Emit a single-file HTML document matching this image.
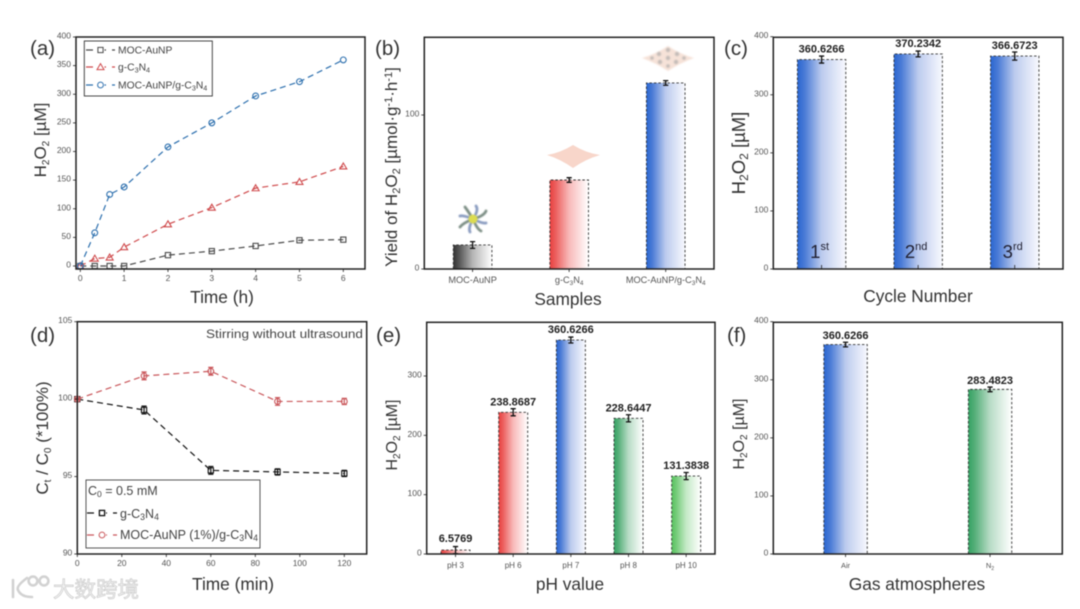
<!DOCTYPE html>
<html lang="en">
<head>
<meta charset="utf-8">
<title>H2O2 production figure</title>
<style>
html,body{margin:0;padding:0;background:#fff;width:1080px;height:609px;overflow:hidden}
svg{display:block;filter:blur(0.45px);font-family:"Liberation Sans","Noto Sans CJK SC",sans-serif}
.title{font-size:17.3px;fill:#333;text-anchor:middle}
.ytitle{font-size:17px;fill:#333;text-anchor:middle}
.plabel{font-size:20.5px;fill:#333}
.tick{font-size:8.5px;fill:#555}
.leg{font-size:10.5px;fill:#444}
.val{font-size:11px;font-weight:bold;fill:#222;text-anchor:middle}
</style>
</head>
<body>
<svg id="fig" xmlns="http://www.w3.org/2000/svg" width="1080" height="609" viewBox="0 0 1080 609">
<defs>
<linearGradient id="g-black"><stop offset="0" stop-color="#333"/><stop offset=".15" stop-color="#555"/><stop offset=".5" stop-color="#b5b5b5"/><stop offset="1" stop-color="#fff"/></linearGradient>
<linearGradient id="g-red"><stop offset="0" stop-color="#e8403f"/><stop offset=".15" stop-color="#ec5f5e"/><stop offset=".5" stop-color="#f8b9b9"/><stop offset="1" stop-color="#fff"/></linearGradient>
<linearGradient id="g-blue"><stop offset="0" stop-color="#2a66d0"/><stop offset=".15" stop-color="#4a7bd6"/><stop offset=".5" stop-color="#bccbee"/><stop offset="1" stop-color="#f8f9fe"/></linearGradient>
<linearGradient id="g-dgreen"><stop offset="0" stop-color="#35a163"/><stop offset=".15" stop-color="#55af79"/><stop offset=".5" stop-color="#b8dcc6"/><stop offset="1" stop-color="#fff"/></linearGradient>
<linearGradient id="g-lgreen"><stop offset="0" stop-color="#58c25f"/><stop offset=".15" stop-color="#72cb77"/><stop offset=".5" stop-color="#c4e9c6"/><stop offset="1" stop-color="#fff"/></linearGradient>
</defs>
<rect width="1080" height="609" fill="#fff"/>

<g id="panel-a"></g>
<g id="panel-b"></g>
<g id="panel-c"></g>
<g id="panel-d"></g>
<g id="panel-e"></g>
<g id="panel-f"></g>

<!-- panel letters -->
<text class="plabel" x="30" y="55">(a)</text>
<text class="plabel" x="375" y="55">(b)</text>
<text class="plabel" x="724" y="55">(c)</text>
<text class="plabel" x="30" y="342">(d)</text>
<text class="plabel" x="376" y="342">(e)</text>
<text class="plabel" x="727" y="342">(f)</text>

<!-- x titles -->
<text class="title" x="222" y="303">Time (h)</text>
<text class="title" x="568" y="305">Samples</text>
<text class="title" x="918" y="302">Cycle Number</text>
<text class="title" x="233" y="590">Time (min)</text>
<text class="title" x="570" y="590">pH value</text>
<text class="title" x="917" y="590">Gas atmospheres</text>

<!-- y titles -->
<text class="ytitle" transform="translate(46,140) rotate(-90)">H<tspan font-size="10" dy="3">2</tspan><tspan dy="-3">O</tspan><tspan font-size="10" dy="3">2</tspan><tspan dy="-3"> [µM]</tspan></text>
<text class="ytitle" transform="translate(397,167) rotate(-90)">Yield of H<tspan font-size="11" dy="3">2</tspan><tspan dy="-3">O</tspan><tspan font-size="11" dy="3">2</tspan><tspan dy="-3"> [µmol·g</tspan><tspan font-size="11" dy="-5">-1</tspan><tspan dy="5">·h</tspan><tspan font-size="11" dy="-5">-1</tspan><tspan dy="5">]</tspan></text>
<text class="ytitle" style="font-size:18.5px" transform="translate(745,153) rotate(-90)">H<tspan font-size="12" dy="3">2</tspan><tspan dy="-3">O</tspan><tspan font-size="12" dy="3">2</tspan><tspan dy="-3"> [µM]</tspan></text>
<text class="ytitle" transform="translate(48,438) rotate(-90)">C<tspan font-size="10" dy="3">t</tspan><tspan dy="-3"> / C</tspan><tspan font-size="10" dy="3">0</tspan><tspan dy="-3"> (*100%)</tspan></text>
<text class="ytitle" style="font-size:16px" transform="translate(397,435) rotate(-90)">H<tspan font-size="10" dy="3">2</tspan><tspan dy="-3">O</tspan><tspan font-size="10" dy="3">2</tspan><tspan dy="-3"> [µM]</tspan></text>
<text class="ytitle" style="font-size:16px" transform="translate(744,434) rotate(-90)">H<tspan font-size="10" dy="3">2</tspan><tspan dy="-3">O</tspan><tspan font-size="10" dy="3">2</tspan><tspan dy="-3"> [µM]</tspan></text>

<!-- illustrations in b -->
<g transform="translate(473,219)" style="filter:blur(0.6px)">
  <g fill="none" stroke="#8a9cc0" stroke-width="2.8" stroke-linecap="round">
    <path d="M0,0 Q6,-9 3,-13"/><path d="M0,0 Q11,-3 13,-8" stroke="#7d8f86"/><path d="M0,0 Q10,5 13,4"/><path d="M0,0 Q4,10 8,12" stroke="#7d8f86"/>
    <path d="M0,0 Q-5,9 -3,13"/><path d="M0,0 Q-10,4 -13,8" stroke="#7d8f86"/><path d="M0,0 Q-10,-4 -13,-3"/><path d="M0,0 Q-5,-8 -8,-12" stroke="#7d8f86"/>
  </g>
  <circle r="4.5" fill="#dcdc50"/>
</g>
<path d="M547,155 Q560,153 573,145 Q586,153 600,155 Q586,159 573,168 Q560,159 547,155Z" fill="#f8d6ca"/>
<g style="filter:blur(0.7px)">
  <path d="M642,58 Q656,54 668,46 Q680,54 694,58 Q680,63 668,71 Q656,63 642,58Z" fill="#f6e2d8"/>
  <g fill="#c4bcb8">
    <circle cx="668" cy="50" r="2.2"/><circle cx="659" cy="54" r="2.2"/><circle cx="677" cy="54" r="2.2"/><circle cx="652" cy="58" r="1.8"/><circle cx="668" cy="58" r="2.2"/><circle cx="684" cy="58" r="1.8"/><circle cx="660" cy="62" r="2.2"/><circle cx="676" cy="62" r="2.2"/><circle cx="668" cy="66" r="1.8"/>
  </g>
</g>

<!-- annotation in d -->
<text x="206" y="338" font-size="11.5" fill="#444" textLength="157" lengthAdjust="spacingAndGlyphs">Stirring without ultrasound</text>

<!-- watermark -->
<g>
  <g fill="none" stroke="#d2d2d2" stroke-width="2.6" stroke-linecap="round">
    <path d="M13,580 L13,597"/><path d="M27,578 Q16,586 18,590 Q21,597 32,597"/>
    <circle cx="33" cy="581" r="4.4"/><circle cx="44" cy="581" r="4.4"/>
  </g>
  <text x="53" y="597" font-size="21.5" fill="#f4f4f4" stroke="#cccccc" stroke-width="0.7" font-family="'Liberation Sans','Noto Sans CJK SC',sans-serif">大数跨境</text>
</g>
</svg>

<script>
// ---------- Panel (a) data ----------
const aTimes = [0, 0.33, 0.67, 1, 2, 3, 4, 5, 6];
const aMoc = [0, 0, 0, 0, 19, 26, 35, 45, 46];
const aGcn = [0, 13, 15, 33, 73, 102, 136, 147, 174];
const aComposite = [0, 58, 125, 138, 208, 250, 297, 322, 360];
const aXTicks = [0, 1, 2, 3, 4, 5, 6];
const aYTicks = [0, 50, 100, 150, 200, 250, 300, 350, 400];
// ---------- Panel (b) data ----------
const bCategories = ["MOC-AuNP", "g-C_3N_4", "MOC-AuNP/g-C_3N_4"];
const bValues = [15.6, 57.8, 120.8];
const bErrors = [2.2, 1.5, 1.5];
const bYTicks = [0, 100];
// ---------- Panel (c) data ----------
const cCategories = ["1st", "2nd", "3rd"];
const cValues = [360.6266, 370.2342, 366.6723];
const cErrors = [6, 5, 7];
const cYTicks = [0, 100, 200, 300, 400];
// ---------- Panel (d) data ----------
const dTimes = [0, 30, 60, 90, 120];
const dGcn = [100, 99.3, 95.4, 95.3, 95.2];
const dComposite = [100, 101.5, 101.8, 99.85, 99.85];
const dGcnErrors = [0.05, 0.25, 0.25, 0.2, 0.2];
const dCompositeErrors = [0.05, 0.25, 0.25, 0.25, 0.2];
const dXTicks = [0, 20, 40, 60, 80, 100, 120];
const dYTicks = [90, 95, 100, 105];
// ---------- Panel (e) data ----------
const eCategories = ["pH 3", "pH 6", "pH 7", "pH 8", "pH 10"];
const eValues = [6.5769, 238.8687, 360.6266, 228.6447, 131.3838];
const eErrors = [6, 6, 5, 6, 6];
const eYTicks = [0, 100, 200, 300];
// ---------- Panel (f) data ----------
const fCategories = ["Air", "N_2"];
const fValues = [360.6266, 283.4823];
const fErrors = [4, 4];
const fYTicks = [0, 100, 200, 300, 400];

const NS = "http://www.w3.org/2000/svg";
function el(tag, attrs, parent) {
  const n = document.createElementNS(NS, tag);
  for (const k in attrs) n.setAttribute(k, attrs[k]);
  parent.appendChild(n);
  return n;
}
function linear(d0, d1, r0, r1) { return v => r0 + (v - d0) / (d1 - d0) * (r1 - r0); }
function band(n, r0, r1) { return i => r0 + (i + 0.5) * (r1 - r0) / n; }
// "_" subscripts the next character
function richText(t, str, subSize) {
  let buf = "", down = false;
  const flush = () => { if (buf) { const s = el("tspan", down ? {dy: 2} : {}, t); s.textContent = buf; buf = ""; down = false; } };
  for (let i = 0; i < str.length; i++) {
    if (str[i] === "_") {
      flush();
      const s = el("tspan", {"font-size": subSize, dy: 2}, t);
      s.textContent = str[++i];
      down = true;
    } else {
      if (down) {
        const s = el("tspan", {dy: -2}, t);
        let j = i, rest = "";
        while (j < str.length && str[j] !== "_") rest += str[j++];
        s.textContent = rest;
        i = j - 1;
        down = false;
      } else buf += str[i];
    }
  }
  flush();
}
function frame(g, b) {
  const r = el("rect", {x: b.l, y: b.t, width: b.r - b.l, height: b.b - b.t, fill: "none", stroke: "#222", "stroke-width": 1.5}, g);
  
  
}
function yAxis(g, b, ticks, y) {
  ticks.forEach(v => {
    const t = el("line", {x1: b.l - 3, x2: b.l, y1: y(v), y2: y(v), stroke: "#222", "stroke-width": 0.8}, g);
    
    
    const l = el("text", {x: b.l - 5, y: y(v) + 1.5, class: "tick", "text-anchor": "end"}, g);
    
    
    l.textContent = v;
  });
}
function xAxis(g, b, ticks, x) {
  ticks.forEach(v => {
    const t = el("line", {x1: x(v), x2: x(v), y1: b.b, y2: b.b + 3, stroke: "#222", "stroke-width": 0.8}, g);
    
    
    const l = el("text", {x: x(v), y: b.b + 12, class: "tick", "text-anchor": "middle"}, g);
    
    
    l.textContent = v;
  });
}
function marker(g, kind, cx, cy, color, sw) {
  let m;
  if (kind === "square") m = el("rect", {x: cx - 2.6, y: cy - 2.6, width: 5.2, height: 5.2, fill: "none", stroke: color, "stroke-width": sw}, g);
  else if (kind === "circle") m = el("circle", {cx: cx, cy: cy, r: 2.9, fill: "none", stroke: color, "stroke-width": sw}, g);
  else m = el("path", {d: "M" + cx + "," + (cy - 3.4) + "l3.5,6h-7z", fill: "none", stroke: color, "stroke-width": sw}, g);
  
  
}
function errorBar(g, cx, y1, y2, color, w, sw) {
  const e = el("path", {d: "M" + (cx - w) + "," + y1 + "H" + (cx + w) + "M" + cx + "," + y1 + "V" + y2 + "M" + (cx - w) + "," + y2 + "H" + (cx + w), fill: "none", stroke: color, "stroke-width": sw}, g);
  
  
}
function series(g, name, xs, ys, x, y, kind, color, dash) {
  const pts = xs.map((v, i) => x(v) + "," + y(ys[i])).join(" ");
  const line = el("polyline", {points: pts, fill: "none", stroke: color, "stroke-width": 1.2, "stroke-dasharray": dash}, g);
  
  
  xs.forEach((v, i) => marker(g, kind, x(v), y(ys[i]), color, 1.1));
}
function bars(g, b, values, errors, fills, x, y, w, showValues, valGap) {
  values.forEach((v, i) => {
    const cx = x(i), top = y(v), h = y(0) - top;
    const r = el("rect", {x: cx - w / 2, y: top, width: w, height: h, fill: "url(#" + fills[i] + ")"}, g);
    
    
    const o = el("path", {d: "M" + (cx - w / 2) + "," + y(0) + "V" + top + "H" + (cx + w / 2) + "V" + y(0), fill: "none", stroke: "#333", "stroke-width": 0.9, "stroke-dasharray": "2.5 2"}, g);
    
    
    errorBar(g, cx, y(v + errors[i]), y(v - errors[i]), "#111", 2.6, 1.3);
    if (showValues) {
      const t = el("text", {x: cx, y: top - valGap[i], class: "val"}, g);
      
      
      t.textContent = v.toFixed(4);
    }
  });
}
function catLabels(g, b, cats, x, size) {
  cats.forEach((c, i) => {
    const tk = el("line", {x1: x(i), x2: x(i), y1: b.b, y2: b.b + 3, stroke: "#222", "stroke-width": 0.8}, g);
    
    
    const t = el("text", {x: x(i), y: b.b + 14, class: "tick", "text-anchor": "middle", "font-size": size, style: "font-size:" + size + "px"}, g);
    
    
    richText(t, c, size * 0.7);
  });
}
function legendRow(g, name, kind, color, x1, x2, yy, tx, label, size, sw, base) {
  const l = el("line", {x1: x1, x2: x2, y1: yy, y2: yy, stroke: color, "stroke-width": 1.2, "stroke-dasharray": "7 6"}, g);
  
  
  const bg = el("rect", {x: (x1 + x2) / 2 - 4, y: yy - 4, width: 8, height: 8, fill: "#fff"}, g);
  
  
  marker(g, kind, (x1 + x2) / 2, yy, color, sw);
  const t = el("text", {x: tx, y: base, class: "leg", style: "font-size:" + size + "px"}, g);
  
  
  richText(t, label, size * 0.7);
}

// ---- Panel (a)
(function () {
  const g = document.getElementById("panel-a");
  const b = {l: 76, r: 365, t: 37, b: 269};
  const x = linear(0, 6, 80.3, 343.3), y = linear(0, 400, 266, 37);
  series(g, "moc-aunp", aTimes, aMoc, x, y, "square", "#4a4a4a", "6 4");
  series(g, "g-c3n4", aTimes, aGcn, x, y, "triangle", "#cf4a4c", "6 4");
  series(g, "composite", aTimes, aComposite, x, y, "circle", "#2c6fae", "6 4");
  frame(g, b);
  yAxis(g, b, aYTicks, y);
  xAxis(g, b, aXTicks, x);
  const box = el("rect", {x: 84.3, y: 41, width: 128, height: 55, fill: "#fff", stroke: "#333", "stroke-width": 0.9}, g);
  
  
  legendRow(g, "moc-aunp", "square", "#4a4a4a", 86, 115, 50, 118, "MOC-AuNP", 10.3, 1, 53.5);
  legendRow(g, "g-c3n4", "triangle", "#cf4a4c", 86, 115, 67, 118, "g-C_3N_4", 10.3, 1, 70.5);
  legendRow(g, "composite", "circle", "#2c6fae", 86, 115, 85, 118, "MOC-AuNP/g-C_3N_4", 10.3, 1, 88.5);
})();

// ---- Panel (b)
(function () {
  const g = document.getElementById("panel-b");
  const b = {l: 424.3, r: 714, t: 37.3, b: 269};
  const x = band(3, b.l, b.r), y = linear(0, 150, 269, 38);
  bars(g, b, bValues, bErrors, ["g-black", "g-red", "g-blue"], x, y, 38.6, false, []);
  frame(g, b);
  yAxis(g, b, bYTicks, y);
  catLabels(g, b, bCategories, x, 9.2);
})();

// ---- Panel (c)
(function () {
  const g = document.getElementById("panel-c");
  const b = {l: 773.3, r: 1063, t: 37.3, b: 269};
  const x = band(3, b.l, b.r), y = linear(0, 400, 269, 36.7);
  bars(g, b, cValues, cErrors, ["g-blue", "g-blue", "g-blue"], x, y, 48.4, true, [7, 7, 7]);
  frame(g, b);
  yAxis(g, b, cYTicks, y);
  cCategories.forEach((c, i) => {
    const tk = el("line", {x1: x(i), x2: x(i), y1: b.b - 4, y2: b.b, stroke: "#222", "stroke-width": 0.8}, g);
    
    
    const t = el("text", {x: x(i) - 2, y: 258, "font-size": 18.5, fill: "#223", "text-anchor": "middle"}, g);
    
    
    const a = el("tspan", {}, t);
    a.textContent = c[0];
    const s = el("tspan", {"font-size": 11, dy: -8}, t);
    s.textContent = c.slice(1);
  });
})();

// ---- Panel (d)
(function () {
  const g = document.getElementById("panel-d");
  const b = {l: 77.3, r: 366.7, t: 321.7, b: 554};
  const x = linear(0, 120, 77.3, 344.3), y = linear(90, 105, 554, 321.7);
  series(g, "g-c3n4", dTimes, dGcn, x, y, "square", "#111", "6 4");
  dTimes.forEach((t, i) => errorBar(g, x(t), y(dGcn[i] + dGcnErrors[i]), y(dGcn[i] - dGcnErrors[i]), "#111", 2.6, 1.2));
  series(g, "composite", dTimes, dComposite, x, y, "circle", "#c9565a", "6 4");
  dTimes.forEach((t, i) => errorBar(g, x(t), y(dComposite[i] + dCompositeErrors[i]), y(dComposite[i] - dCompositeErrors[i]), "#c9565a", 2.6, 1.2));
  frame(g, b);
  yAxis(g, b, dYTicks, y);
  xAxis(g, b, dXTicks, x);
  const box = el("rect", {x: 86, y: 480, width: 174, height: 68, fill: "#fff", stroke: "#444", "stroke-width": 0.9}, g);
  
  
  const c0 = el("text", {x: 88, y: 495, class: "leg", style: "font-size:12.5px"}, g);
  
  
  richText(c0, "C_0 = 0.5 mM", 8.5);
  legendRow(g, "g-c3n4", "square", "#111", 87, 117, 513, 120, "g-C_3N_4", 12.5, 1.3, 518);
  legendRow(g, "composite", "circle", "#c9565a", 87, 117, 535, 120, "MOC-AuNP (1%)/g-C_3N_4", 12.5, 1, 539);
})();

// ---- Panel (e)
(function () {
  const g = document.getElementById("panel-e");
  const b = {l: 426.7, r: 715, t: 322.3, b: 554};
  const x = band(5, b.l, b.r), y = linear(0, 300, 554, 376);
  bars(g, b, eValues, eErrors, ["g-red", "g-red", "g-blue", "g-dgreen", "g-lgreen"], x, y, 29, true, [8, 7, 7, 7, 7]);
  frame(g, b);
  yAxis(g, b, eYTicks, y);
  catLabels(g, b, eCategories, x, 8);
})();

// ---- Panel (f)
(function () {
  const g = document.getElementById("panel-f");
  const b = {l: 773.3, r: 1062.3, t: 322.3, b: 554};
  const x = band(2, b.l, b.r), y = linear(0, 400, 554, 321.7);
  bars(g, b, fValues, fErrors, ["g-blue", "g-dgreen"], x, y, 43.4, true, [5.5, 5.5]);
  frame(g, b);
  yAxis(g, b, fYTicks, y);
  catLabels(g, b, fCategories, x, 7.5);
})();
</script>
</body>
</html>
